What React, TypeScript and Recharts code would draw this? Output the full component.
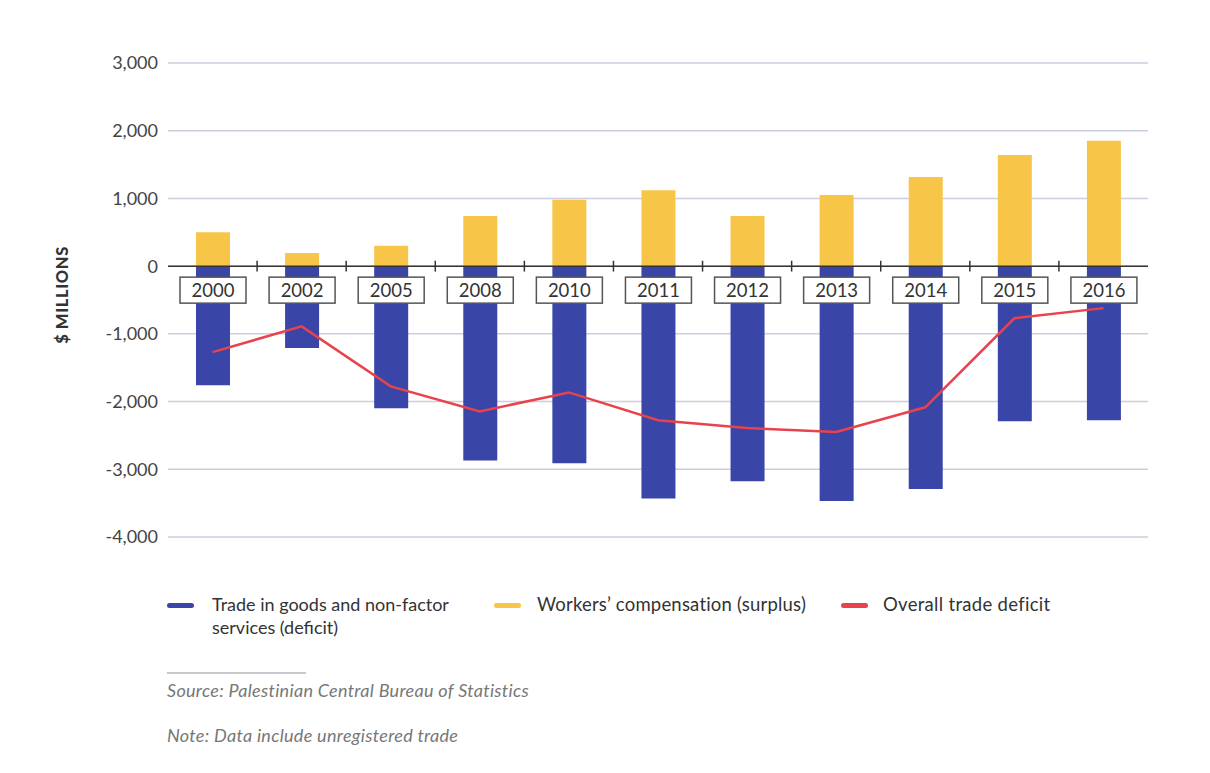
import React from 'react';
import { ComposedChart, Bar, Line, XAxis, YAxis, CartesianGrid, ReferenceLine, LabelList } from 'recharts';

const years = ['2000', '2002', '2005', '2008', '2010', '2011', '2012', '2013', '2014', '2015', '2016'];
const tradeDeficit = [-1760, -1210, -2100, -2870, -2910, -3430, -3175, -3470, -3290, -2290, -2275];
const workersComp = [500, 195, 300, 740, 980, 1120, 740, 1050, 1315, 1640, 1850];
const overallDeficit = [-1270, -890, -1775, -2145, -1865, -2275, -2390, -2450, -2085, -770, -620];
const yTicks = [-4000, -3000, -2000, -1000, 0, 1000, 2000, 3000];

const data = years.map((y, i) => ({
  year: y,
  trade: tradeDeficit[i],
  workers: workersComp[i],
  overall: overallDeficit[i],
}));

const BLUE = '#3a45a8';
const YELLOW = '#f7c548';
const RED = '#e8424c';
const FONT = 'Lato, "Open Sans", sans-serif';

const YearBox = (props: any) => {
  const { x, y, width, height, value } = props;
  const cx = x + width / 2;
  const zeroY = y + height;
  const bw = 66;
  const bh = 26;
  return (
    <g>
      <rect x={cx - bw / 2} y={zeroY + 11} width={bw} height={bh} fill="#fff" stroke="#555" strokeWidth={1.5} />
      <text x={cx} y={zeroY + 11 + bh / 2} textAnchor="middle" dominantBaseline="central" fontSize={18.5} fill="#333" fontFamily={FONT}>
        {value}
      </text>
    </g>
  );
};

const fmt = (v: number) => v.toLocaleString('en-US');

export default function App() {
  return (
    <div style={{ position: 'absolute', left: 0, top: 0, width: 1210, height: 773, background: '#fff', fontFamily: FONT }}>
      <ComposedChart
        width={1210}
        height={773}
        data={data}
        stackOffset="sign"
        margin={{ top: 63, right: 62, bottom: 236, left: 108 }}
      >
        <CartesianGrid vertical={false} stroke="#cdcedd" strokeWidth={1.5} />
        <XAxis dataKey="year" hide />
        <YAxis
          width={60}
          domain={[-4000, 3000]}
          ticks={yTicks}
          tickFormatter={fmt}
          axisLine={false}
          tickLine={false}
          tickMargin={4}
          tick={{ fontSize: 18, fill: '#444', fontFamily: FONT }}
          allowDataOverflow
        />
        <Bar dataKey="trade" stackId="a" fill={BLUE} barSize={34} isAnimationActive={false} />
        <Bar dataKey="workers" stackId="a" fill={YELLOW} barSize={34} isAnimationActive={false}>
          <LabelList dataKey="year" content={YearBox} />
        </Bar>
        <ReferenceLine y={0} stroke="#333" strokeWidth={1.5} />
        {years.slice(0, -1).map((yr) => (
          <ReferenceLine
            key={yr}
            position="end"
            segment={[{ x: yr, y: 80 }, { x: yr, y: -80 }]}
            stroke="#333"
            strokeWidth={1.5}
          />
        ))}
        <Line dataKey="overall" type="linear" stroke={RED} strokeWidth={2.5} dot={false} isAnimationActive={false} />
      </ComposedChart>

      <div
        style={{
          position: 'absolute',
          left: 62,
          top: 295,
          transform: 'translate(-50%, -50%) rotate(-90deg)',
          fontWeight: 900,
          fontSize: 16.5,
          color: '#333',
          whiteSpace: 'nowrap',
          letterSpacing: 0.6,
        }}
      >
        $ MILLIONS
      </div>

      <div style={{ position: 'absolute', left: 167, top: 603, width: 27, height: 5, borderRadius: 3, background: BLUE }} />
      <div style={{ position: 'absolute', left: 212, top: 593, fontSize: 18, lineHeight: '23px', color: '#333' }}>
        Trade in goods and non-factor
        <br />
        services (deficit)
      </div>
      <div style={{ position: 'absolute', left: 494, top: 603, width: 27, height: 5, borderRadius: 3, background: YELLOW }} />
      <div style={{ position: 'absolute', left: 537, top: 593, fontSize: 18.5, lineHeight: '23px', color: '#333', whiteSpace: 'nowrap', letterSpacing: 0.2 }}>
        Workers’ compensation (surplus)
      </div>
      <div style={{ position: 'absolute', left: 841, top: 603, width: 27, height: 5, borderRadius: 3, background: RED }} />
      <div style={{ position: 'absolute', left: 883, top: 593, fontSize: 18.5, lineHeight: '23px', color: '#333', whiteSpace: 'nowrap', letterSpacing: 0.3 }}>
        Overall trade deficit
      </div>

      <div style={{ position: 'absolute', left: 167, top: 672, width: 139, height: 2, background: '#c8c8cc' }} />
      <div style={{ position: 'absolute', left: 167, top: 679, fontSize: 18, fontStyle: 'italic', color: '#777', whiteSpace: 'nowrap', letterSpacing: 0.3 }}>
        Source: Palestinian Central Bureau of Statistics
      </div>
      <div style={{ position: 'absolute', left: 167, top: 724, fontSize: 18, fontStyle: 'italic', color: '#777', whiteSpace: 'nowrap', letterSpacing: 0.3 }}>
        Note: Data include unregistered trade
      </div>
    </div>
  );
}
